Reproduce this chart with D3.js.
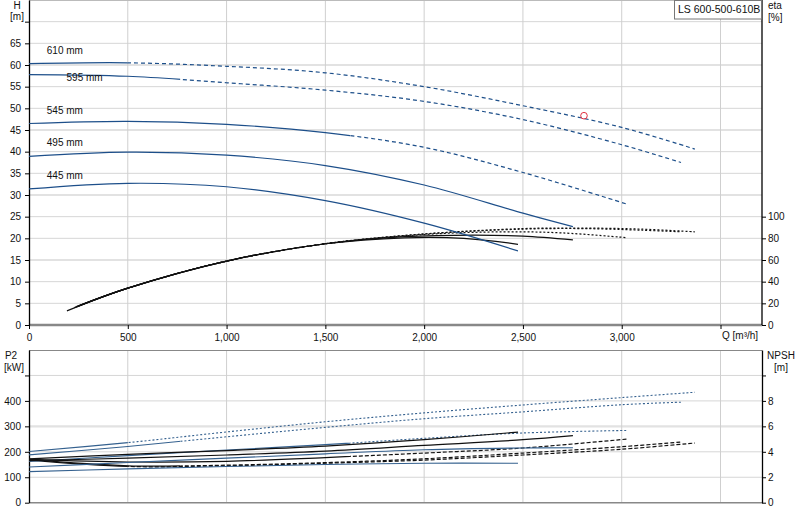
<!DOCTYPE html>
<html>
<head>
<meta charset="utf-8">
<script src="https://cdn.jsdelivr.net/npm/d3@7"></script>
<style>
  body { margin: 0; background: #fff; }
  text { font-family: "Liberation Sans", Arial, sans-serif; font-size: 10px; fill: #111; }
</style>
</head>
<body>
<svg id="chart" width="800" height="520"></svg>
<script>
const width = 800, height = 520;

// impeller sizes and the flow where the solid part of each curve stops
const sizes = ['610 mm', '595 mm', '545 mm', '495 mm', '445 mm'];
const solidTo = [500, 765, 1625, 2753, 2475];

// head curves, H [m] against Q [m³/h]
const headQ = [
  [0, 500, 1000, 1500, 2000, 2500, 3000, 3370],
  [0, 500, 1000, 1500, 2000, 2500, 3000, 3300],
  [0, 500, 1000, 1500, 2000, 2500, 3026],
  [0, 500, 1000, 1500, 2000, 2500, 2753],
  [0, 500, 1000, 1500, 2000, 2475]
];
const headH = [
  [60.3, 60.5, 59.7, 58.2, 55.0, 50.6, 45.6, 40.6],
  [57.8, 57.4, 55.9, 54.2, 51.6, 47.4, 41.6, 37.5],
  [46.5, 47.0, 46.3, 44.4, 41.0, 35.2, 27.9],
  [38.9, 39.9, 39.2, 36.8, 32.3, 25.8, 22.7],
  [31.4, 32.7, 31.9, 28.7, 23.5, 17.1]
];

// efficiency curves, eta [%]
const etaQ = [
  [250, 500, 1000, 1500, 2000, 2500, 2800, 3100, 3370],
  [250, 500, 1000, 1500, 2000, 2500, 2800, 3100, 3300],
  [240, 500, 1000, 1500, 2000, 2400, 2700, 3026],
  [230, 500, 1000, 1500, 1900, 2250, 2500, 2753],
  [192, 500, 1000, 1500, 1900, 2200, 2475]
];
const etaV = [
  [17.5, 34, 59, 75, 84, 89, 89.5, 88.5, 86],
  [17.5, 34, 59, 75, 84, 88.5, 89, 87.5, 86],
  [17, 34, 59, 75, 83.5, 86, 85, 80.6],
  [16, 34, 59, 75, 81.5, 83, 82, 78.5],
  [13, 34, 59, 75, 80.5, 80, 74.5]
];

// power curves, P2 [kW]
const powerQ = [
  [0, 500, 1000, 1500, 2000, 2500, 3000, 3370],
  [0, 500, 1000, 1500, 2000, 2500, 3000, 3300],
  [0, 500, 1000, 1500, 2000, 2500, 3026],
  [0, 500, 1000, 1500, 2000, 2500, 2753],
  [0, 500, 1000, 1500, 2000, 2475]
];
const powerP = [
  [201, 236, 278, 318, 353, 384, 413, 434],
  [188, 221, 259, 296, 330, 357, 385, 395],
  [162, 185, 207, 228, 253, 274, 284],
  [140, 158, 175, 192, 208, 215, 216],
  [122, 133, 142, 150, 155, 155]
];

// NPSH curves [m]
const npshQ = powerQ;
const npshN = [
  [3.35, 2.85, 2.9, 3.1, 3.35, 3.75, 4.2, 4.69],
  [3.4, 2.9, 2.95, 3.15, 3.45, 3.9, 4.4, 4.77],
  [3.4, 3.2, 3.25, 3.55, 3.9, 4.3, 5.0],
  [3.3, 3.5, 3.75, 4.05, 4.5, 4.95, 5.27],
  [3.45, 3.8, 4.1, 4.45, 4.95, 5.55]
];

const dutyPoint = { q: 2809, h: 48.3 };

const qTicks = [0, 500, 1000, 1500, 2000, 2500, 3000, 3500];
const hTicks = [0, 5, 10, 15, 20, 25, 30, 35, 40, 45, 50, 55, 60, 65, 70];
const etaTicks = [0, 20, 40, 60, 80, 100];
const pTicks = [0, 100, 200, 300, 400, 500];
const nTicks = [0, 2, 4, 6, 8, 10];

// scales
const x = d3.scaleLinear([0, 3710], [29, 762]);
const yH = d3.scaleLinear([0, 75], [325, 0]);
const yEta = d3.scaleLinear([0, 300], [325, 0]);
const yP = d3.scaleLinear([0, 600], [502.7, 350]);
const yN = d3.scaleLinear([0, 12], [502.7, 350]);

const svg = d3.select('#chart');
const navy = '#1d4f8a';
const powerBlue = '#35618f';

// clip regions: solid part and dashed part per impeller
const defs = svg.append('defs');
solidTo.forEach((q, i) => {
  defs.append('clipPath').attr('id', 'solid' + i)
    .append('rect').attr('x', 0).attr('y', 0).attr('width', x(q)).attr('height', height);
  defs.append('clipPath').attr('id', 'dash' + i)
    .append('rect').attr('x', x(q)).attr('y', 0).attr('width', width - x(q)).attr('height', height);
});

// gridlines
function grid(yScale, ticks, thickEvery, top, bottom) {
  const g = svg.append('g');
  g.selectAll('line.h').data(ticks.filter(t => t > 0)).join('line')
    .attr('x1', x(0)).attr('x2', x.range()[1])
    .attr('y1', d => yScale(d)).attr('y2', d => yScale(d))
    .attr('stroke', d => d % thickEvery === 0 ? '#e2e2e2' : '#d6d6d6')
    .attr('stroke-width', d => d % thickEvery === 0 ? 2.2 : 1);
  g.selectAll('line.v').data(qTicks.filter(t => t > 0)).join('line')
    .attr('x1', d => x(d)).attr('x2', d => x(d))
    .attr('y1', top).attr('y2', bottom)
    .attr('stroke', '#cfcfcf').attr('stroke-width', 1);
}
grid(yH, hTicks, 15, 0, 325);
grid(yP, pTicks, 300, 350, 502.7);

// frames
svg.append('line').attr('x1', x(0)).attr('x2', x.range()[1]).attr('y1', 0.5).attr('y2', 0.5).attr('stroke', '#bbb');
svg.append('line').attr('x1', x(0)).attr('x2', x.range()[1]).attr('y1', 350.5).attr('y2', 350.5).attr('stroke', '#888');
svg.append('line').attr('x1', x(0)).attr('x2', x.range()[1]).attr('y1', 325).attr('y2', 325).attr('stroke', '#888').attr('stroke-width', 2.5);
svg.append('line').attr('x1', x(0)).attr('x2', x.range()[1]).attr('y1', 502.7).attr('y2', 502.7).attr('stroke', '#888').attr('stroke-width', 1.6);

// axes
function styleAxis(g) {
  g.select('.domain').attr('stroke', '#000').attr('stroke-width', 1.3);
  g.selectAll('.tick line').attr('stroke', '#000');
  g.selectAll('.tick text').style('font-family', '"Liberation Sans", Arial, sans-serif').style('font-size', '10px').attr('fill', '#111');
}
// the topmost tick of each side axis carries no label
const skipTop = top => t => t === top ? '' : d3.format(',')(t);

svg.append('g').attr('transform', `translate(${x(0)},0)`)
  .call(d3.axisLeft(yH).tickValues(hTicks).tickSize(4).tickSizeOuter(0).tickPadding(4).tickFormat(skipTop(70)))
  .call(styleAxis);
svg.append('g').attr('transform', `translate(${x.range()[1]},0)`)
  .call(d3.axisRight(yEta).tickValues(etaTicks).tickSize(4).tickSizeOuter(0).tickPadding(2))
  .call(styleAxis)
  .call(g => g.select('.domain').attr('d', 'M0,0V325'));
svg.append('g').attr('transform', 'translate(0,325)')
  .call(d3.axisBottom(x).tickValues(qTicks).tickSize(4).tickSizeOuter(0).tickPadding(5)
    .tickFormat(skipTop(3500)))
  .call(styleAxis)
  .call(g => g.select('.domain').remove());
svg.append('g').attr('transform', `translate(${x(0)},0)`)
  .call(d3.axisLeft(yP).tickValues(pTicks).tickSize(4).tickSizeOuter(0).tickPadding(4).tickFormat(skipTop(500)))
  .call(styleAxis);
svg.append('g').attr('transform', `translate(${x.range()[1]},0)`)
  .call(d3.axisRight(yN).tickValues(nTicks).tickSize(4).tickSizeOuter(0).tickPadding(2).tickFormat(skipTop(10)))
  .call(styleAxis);

// axis titles
const title = (tx, ty, s, anchor) => svg.append('text').attr('x', tx).attr('y', ty)
  .attr('text-anchor', anchor || 'middle').text(s);
title(17, 9, 'H');
title(17, 20, '[m]');
title(768, 9, 'eta', 'start');
title(768, 21, '[%]', 'start');
title(722, 339, 'Q [m³/h]', 'start');
title(11, 359, 'P2');
title(14, 371, '[kW]');
title(781, 359, 'NPSH');
title(781, 371, '[m]');

// model box
svg.append('rect').attr('x', 674.5).attr('y', 0.5).attr('width', 87).attr('height', 18.5)
  .attr('fill', '#fff').attr('stroke', '#777');
svg.append('text').attr('x', 678).attr('y', 13).style('font-size', '10.5px').text('LS 600-500-610B');

// curve drawing: solid up to solidTo, dashed beyond
function drawCurve(qs, vs, yScale, i, color, dash, sw) {
  const pts = qs.map((q, k) => [q, vs[k]]);
  const line = d3.line().x(d => x(d[0])).y(d => yScale(d[1])).curve(d3.curveCatmullRom.alpha(0.5));
  svg.append('path').datum(pts).attr('d', line).attr('fill', 'none')
    .attr('stroke', color).attr('stroke-width', sw)
    .attr('clip-path', `url(#solid${i})`);
  svg.append('path').datum(pts).attr('d', line).attr('fill', 'none')
    .attr('stroke', color).attr('stroke-width', sw).attr('stroke-dasharray', dash)
    .attr('clip-path', `url(#dash${i})`);
}

sizes.forEach((s, i) => {
  drawCurve(powerQ[i], powerP[i], yP, i, powerBlue, '2,2', 1.1);
  drawCurve(npshQ[i], npshN[i], yN, i, '#111', '4,2', 1.2);
  drawCurve(etaQ[i], etaV[i], yEta, i, '#111', '2,2', 1.2);
  drawCurve(headQ[i], headH[i], yH, i, navy, '4,3', 1.2);
});

// impeller labels
const labelDy = [-10, 6, -10, -10, -10];
const labelQ = [90, 190, 90, 90, 90];
svg.append('g').selectAll('text').data(sizes).join('text')
  .attr('x', (d, i) => x(labelQ[i]))
  .attr('y', (d, i) => yH(headH[i][0]) + labelDy[i])
  .text(d => d);

// duty point
svg.append('circle').attr('cx', x(dutyPoint.q)).attr('cy', yH(dutyPoint.h)).attr('r', 3.3)
  .attr('fill', 'none').attr('stroke', '#e03040').attr('stroke-width', 1);
</script>
</body>
</html>
